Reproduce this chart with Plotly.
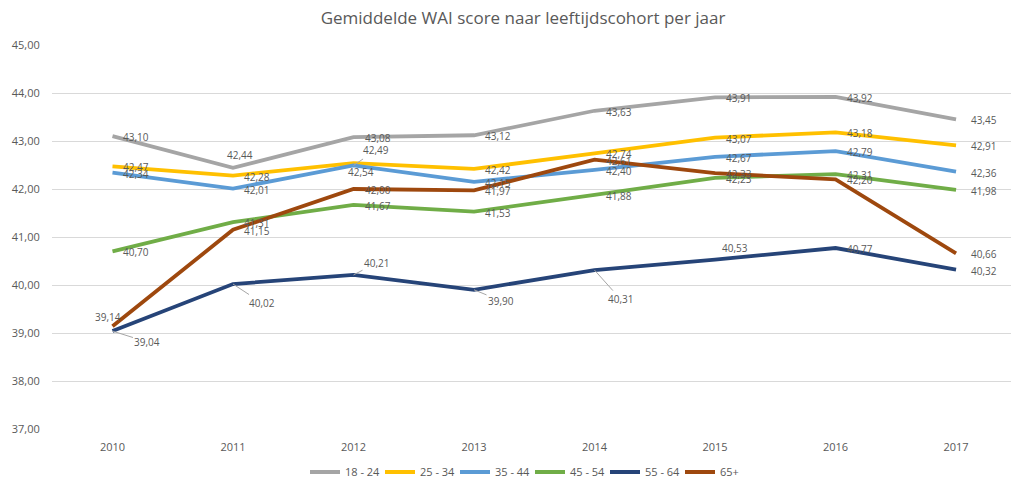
import plotly.graph_objects as go

years = ["2010", "2011", "2012", "2013", "2014", "2015", "2016", "2017"]
series_names = ["18 - 24", "25 - 34", "35 - 44", "45 - 54", "55 - 64", "65+"]
s_18_24 = [43.10, 42.44, 43.08, 43.12, 43.63, 43.91, 43.92, 43.45]
s_25_34 = [42.47, 42.28, 42.54, 42.42, 42.74, 43.07, 43.18, 42.91]
s_35_44 = [42.34, 42.01, 42.49, 42.15, 42.40, 42.67, 42.79, 42.36]
s_45_54 = [40.70, 41.31, 41.67, 41.53, 41.88, 42.23, 42.31, 41.98]
s_55_64 = [39.04, 40.02, 40.21, 39.90, 40.31, 40.53, 40.77, 40.32]
s_65plus = [39.14, 41.15, 42.00, 41.97, 42.61, 42.33, 42.20, 40.66]
y_ticks = [37, 38, 39, 40, 41, 42, 43, 44, 45]

values = [s_18_24, s_25_34, s_35_44, s_45_54, s_55_64, s_65plus]
colors = ["#A5A5A5", "#FFC000", "#5B9BD5", "#70AD47", "#264478", "#9E480E"]

# label placement styles: (series index, year index) -> (dx, dy, leader)
special = {
    (4, 0): (35, 11, True),
    (5, 0): (-4, -9, False),
    (0, 1): (7, -13, False),
    (4, 1): (29, 19, True),
    (1, 2): (7, 9, False),
    (2, 2): (22, -15, True),
    (4, 2): (23, -12, True),
    (4, 3): (27, 11, True),
    (4, 4): (26, 29, True),
    (4, 5): (20, -12, False),
}

TXT = "#595959"
FONT = "Open Sans"

fig = go.Figure()
for name, vals, col in zip(series_names, values, colors):
    fig.add_trace(go.Scatter(
        x=years, y=vals, name=name, mode="lines",
        line=dict(color=col, width=3.8),
    ))

annotations = []
for si, vals in enumerate(values):
    for yi, v in enumerate(vals):
        txt = f"{v:.2f}".replace(".", ",")
        key = (si, yi)
        lf = dict(family=FONT, size=10, color=TXT)
        if key in special:
            dx, dy, leader = special[key]
            if leader:
                annotations.append(dict(
                    x=yi, y=v, xref="x", yref="y", text=txt,
                    showarrow=True, arrowhead=0, arrowwidth=1,
                    arrowcolor="#A6A6A6", ax=dx, ay=dy,
                    font=lf,
                ))
            else:
                annotations.append(dict(
                    x=yi, y=v, xref="x", yref="y", text=txt,
                    showarrow=False, xanchor="center", yanchor="middle",
                    xshift=dx, yshift=-dy, font=lf,
                ))
        else:
            annotations.append(dict(
                x=yi, y=v, xref="x", yref="y", text=txt,
                showarrow=False, xanchor="left", yanchor="middle",
                xshift=13 if yi == len(years) - 1 else 9, yshift=-1,
                font=lf,
            ))

fig.update_layout(
    width=1011, height=479,
    margin=dict(l=52, r=0, t=45, b=50),
    paper_bgcolor="white", plot_bgcolor="white",
    separators=",.",
    font=dict(family=FONT, color=TXT, size=11),
    title=dict(
        text="Gemiddelde WAI score naar leeftijdscohort per jaar",
        x=523 / 1011, xanchor="center",
        y=1 - 18 / 479, yanchor="middle",
        font=dict(family=FONT, size=17, color=TXT),
    ),
    showlegend=True,
    legend=dict(
        orientation="h", x=530 / 1011, xref="container", xanchor="center",
        y=1 - 472 / 479, yref="container", yanchor="middle",
        entrywidth=30, entrywidthmode="pixels",
        font=dict(family=FONT, size=11, color=TXT),
    ),
    annotations=annotations,
)
fig.update_xaxes(
    type="category", range=[-0.502, 7.456],
    showgrid=False, zeroline=False, showline=False,
    ticks="outside", ticklen=8, tickcolor="rgba(0,0,0,0)",
    tickfont=dict(family=FONT, size=11, color=TXT),
)
fig.update_yaxes(
    range=[37, 45], tickvals=y_ticks, tickformat=".2f",
    showgrid=True, gridcolor="#D9D9D9", gridwidth=1,
    zeroline=False, showline=False,
    ticks="outside", ticklen=9, tickcolor="rgba(0,0,0,0)",
    tickfont=dict(family=FONT, size=11, color=TXT),
)

fig.write_html(
    "out.html",
    config={"displayModeBar": False},
    post_script="document.body.style.margin='0';document.body.style.overflow='hidden';",
)
